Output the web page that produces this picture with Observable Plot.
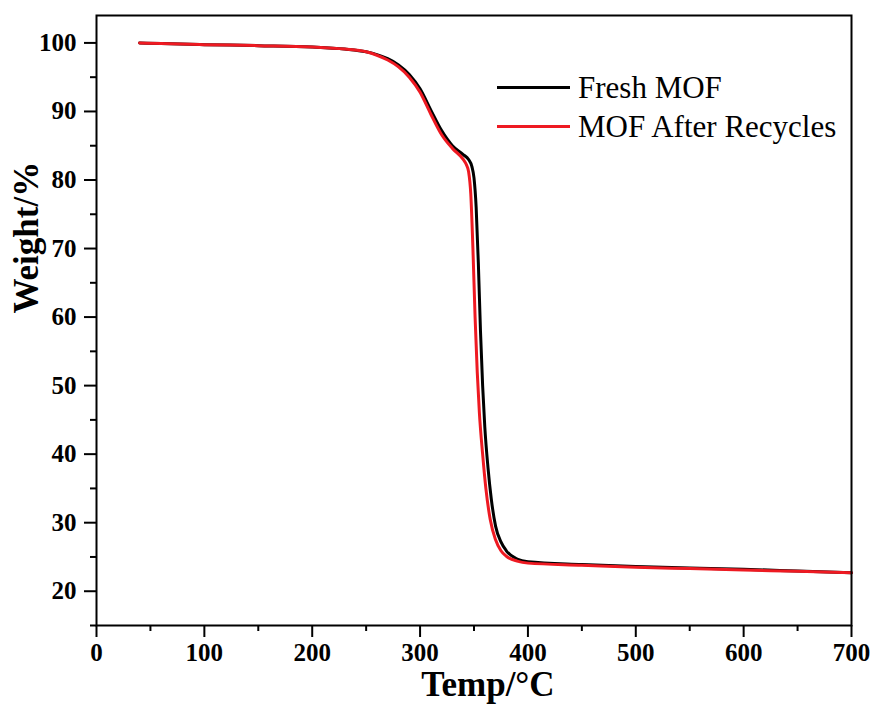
<!DOCTYPE html>
<html>
<head>
<meta charset="utf-8">
<script src="https://cdn.jsdelivr.net/npm/d3@7"></script>
<script src="https://cdn.jsdelivr.net/npm/@observablehq/plot@0.6"></script>
<style>
  html, body { margin: 0; padding: 0; background: #fff; }
  #wrap { position: relative; width: 876px; height: 711px; }
  #legend { position: absolute; left: 497px; top: 68px; font-family: "Liberation Serif", serif; font-size: 31px; color: #000; line-height: 39px; }
  #legend .row { display: flex; align-items: center; white-space: nowrap; }
  #legend .sw { width: 73px; height: 3px; margin-right: 8px; }
</style>
</head>
<body>
<div id="wrap">
  <div id="chart"></div>
  <div id="legend"></div>
</div>
<script>
// ---- data ----
const seriesNames = ["Fresh MOF", "MOF After Recycles"];
const seriesColors = ["#000000", "#ee1a22"];

const freshTemp = [40, 60, 100, 150, 200, 230, 250, 260, 270, 280, 290, 300, 310, 320, 330, 340, 345, 348, 350, 352, 354, 356, 358, 360, 363, 366, 370, 375, 380, 390, 400, 450, 500, 550, 600, 650, 700];
const freshWeight = [100, 99.9, 99.75, 99.6, 99.4, 99.1, 98.7, 98.3, 97.7, 96.8, 95.4, 93.3, 90.2, 87.2, 85.0, 83.7, 83.0, 82.0, 80.3, 76, 68, 58, 50, 44, 38, 33.5, 29.5, 27.2, 25.9, 24.7, 24.3, 23.9, 23.6, 23.4, 23.2, 22.95, 22.7];

const recycledTemp = [40, 60, 100, 150, 200, 230, 250, 260, 270, 280, 290, 300, 310, 320, 330, 340, 343, 345, 347, 349, 351, 353, 355, 358, 361, 365, 370, 375, 380, 390, 400, 450, 500, 550, 600, 650, 700];
const recycledWeight = [100, 99.9, 99.75, 99.6, 99.4, 99.1, 98.7, 98.2, 97.5, 96.5, 95.0, 92.8, 89.6, 86.6, 84.6, 83.0, 82.2, 81.2, 78, 70, 60, 52, 46, 40, 35, 30.5, 27.5, 25.9, 25.1, 24.4, 24.1, 23.8, 23.5, 23.3, 23.1, 22.9, 22.7];

const xMajorTicks = [0, 100, 200, 300, 400, 500, 600, 700];
const xMinorTicks = [50, 150, 250, 350, 450, 550, 650];
const yMajorTicks = [20, 30, 40, 50, 60, 70, 80, 90, 100];
const yMinorTicks = [15, 25, 35, 45, 55, 65, 75, 85, 95];

const xTitle = "Temp/°C";
const yTitle = "Weight/%";

// ---- build table ----
const rows = [
  ...freshTemp.map((t, i) => ({ series: seriesNames[0], temp: t, weight: freshWeight[i] })),
  ...recycledTemp.map((t, i) => ({ series: seriesNames[1], temp: t, weight: recycledWeight[i] }))
];

const chart = Plot.plot({
  width: 876,
  height: 711,
  marginLeft: 96,
  marginRight: 25,
  marginTop: 15,
  marginBottom: 86,
  style: { fontFamily: "'Liberation Serif', serif", fontSize: "25px", fontWeight: "bold", background: "#fff", color: "#000" },
  x: { domain: [0, 700] },
  y: { domain: [15, 104] },
  color: { domain: seriesNames, range: seriesColors },
  marks: [
    Plot.line(rows, { x: "temp", y: "weight", z: "series", stroke: "series", strokeWidth: 3, curve: "monotone-x" }),
    Plot.frame({ stroke: "#000", strokeWidth: 2 }),
    Plot.axisX({ ticks: xMajorTicks, tickSize: 12, tickPadding: 6, tickFormat: d => String(d), label: null, strokeWidth: 2 }),
    Plot.axisX({ ticks: xMinorTicks, tickSize: 6, text: null, label: null, strokeWidth: 2 }),
    Plot.axisY({ ticks: yMajorTicks, tickSize: 12, tickPadding: 8, tickFormat: d => String(d), label: null, strokeWidth: 2 }),
    Plot.axisY({ ticks: yMinorTicks, tickSize: 6, text: null, label: null, strokeWidth: 2 }),
    Plot.text([xTitle], { text: d => d, frameAnchor: "bottom", dy: 70, dx: 14, fontSize: 35, fontWeight: "bold" }),
    Plot.text([yTitle], { text: d => d, frameAnchor: "left", dx: -70, dy: -7, rotate: -90, fontSize: 35, fontWeight: "bold" })
  ]
});
document.getElementById("chart").appendChild(chart);

// ---- legend ----
const legend = d3.select("#legend");
seriesNames.forEach((name, i) => {
  const row = legend.append("div").attr("class", "row");
  row.append("div").attr("class", "sw").style("background", seriesColors[i]);
  row.append("span").text(name);
});
</script>
</body>
</html>
